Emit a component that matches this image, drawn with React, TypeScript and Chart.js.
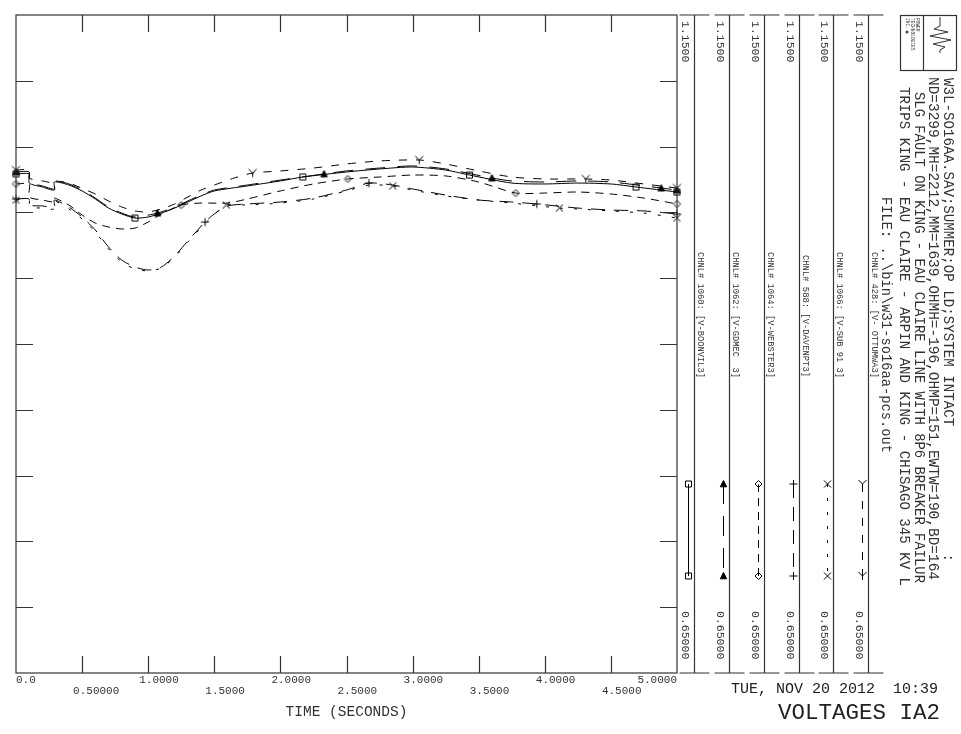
import React, { useEffect, useRef } from 'react';
import { Chart, registerables } from 'chart.js';

Chart.register(...registerables);

const FONT = "'Liberation Mono', 'DejaVu Sans Mono', monospace";

// ---- axes ----
const X_MIN = 0;
const X_MAX = 5;
const Y_MIN = 0.65;
const Y_MAX = 1.15;
const Y_STEP = 0.05;
const X_TICK_VALUES = [0, 0.5, 1, 1.5, 2, 2.5, 3, 3.5, 4, 4.5, 5];
const X_TICK_LABELS = ['0.0', '0.50000', '1.0000', '1.5000', '2.0000', '2.5000', '3.0000', '3.5000', '4.0000', '4.5000', '5.0000'];
const X_TITLE = 'TIME (SECONDS)';
const PANEL_TOP_LABEL = '1.1500';
const PANEL_BOTTOM_LABEL = '0.65000';

// ---- series (time in s, voltage in pu) ----
const BOONVIL_T = [0, 0.1, 0.1, 0.2, 0.29, 0.29, 0.4, 0.5, 0.6, 0.7, 0.8, 0.9, 1.0, 1.1, 1.2, 1.3, 1.4, 1.5, 1.75, 2.0, 2.17, 2.5, 2.75, 3.0, 3.25, 3.43, 3.75, 4.0, 4.25, 4.5, 4.69, 5.0];
const BOONVIL_V = [1.0292, 1.0292, 1.0223, 1.0193, 1.0170, 1.0231, 1.0208, 1.0163, 1.0102, 1.0033, 0.9988, 0.9957, 0.9965, 0.9995, 1.0033, 1.0079, 1.0125, 1.0163, 1.0201, 1.0239, 1.0269, 1.0307, 1.0330, 1.0345, 1.0322, 1.0284, 1.0223, 1.0216, 1.0223, 1.0216, 1.0193, 1.0155];
const BOONVIL_MARKS = [0, 0.9, 2.17, 3.43, 4.69, 5.0];

const GDMEC_T = [0, 0.1, 0.1, 0.2, 0.29, 0.29, 0.4, 0.5, 0.6, 0.7, 0.8, 0.9, 1.07, 1.2, 1.3, 1.4, 1.5, 1.75, 2.0, 2.33, 2.5, 2.75, 3.0, 3.25, 3.6, 3.75, 4.0, 4.25, 4.5, 4.88, 5.0];
const GDMEC_V = [1.0307, 1.0307, 1.0231, 1.0201, 1.0178, 1.0239, 1.0216, 1.0170, 1.0109, 1.0041, 0.9995, 0.9965, 0.9995, 1.0041, 1.0087, 1.0132, 1.0170, 1.0208, 1.0246, 1.0292, 1.0315, 1.0337, 1.0353, 1.0330, 1.0261, 1.0239, 1.0231, 1.0239, 1.0231, 1.0185, 1.0170];
const GDMEC_MARKS = [0, 1.07, 2.33, 3.6, 4.88, 5.0];

const WEBSTER_T = [0, 0.1, 0.1, 0.2, 0.29, 0.29, 0.4, 0.5, 0.6, 0.7, 0.8, 0.9, 1.0, 1.1, 1.25, 1.4, 1.6, 1.75, 2.0, 2.25, 2.51, 2.75, 3.0, 3.25, 3.5, 3.78, 4.0, 4.25, 4.5, 4.75, 5.0];
const WEBSTER_V = [1.0216, 1.0216, 1.0117, 1.0094, 1.0079, 1.0109, 1.0056, 0.9980, 0.9919, 0.9889, 0.9874, 0.9881, 0.9927, 0.9988, 1.0056, 1.0071, 1.0071, 1.0102, 1.0163, 1.0216, 1.0254, 1.0269, 1.0284, 1.0277, 1.0231, 1.0147, 1.0147, 1.0155, 1.0140, 1.0109, 1.0064];
const WEBSTER_MARKS = [0, 1.25, 2.51, 3.78, 5.0];

const DAVENPT_T = [0, 0.1, 0.1, 0.2, 0.29, 0.29, 0.4, 0.5, 0.6, 0.7, 0.8, 0.9, 1.0, 1.1, 1.2, 1.3, 1.43, 1.5, 1.6, 1.75, 2.0, 2.25, 2.5, 2.67, 2.85, 3.0, 3.25, 3.5, 3.75, 3.94, 4.25, 4.5, 4.75, 5.0];
const DAVENPT_V = [1.0102, 1.0102, 1.0056, 1.0049, 1.0041, 1.0094, 1.0041, 0.9965, 0.9866, 0.9737, 0.9638, 0.9585, 0.9562, 0.9585, 0.9669, 0.9783, 0.9927, 0.9988, 1.0049, 1.0064, 1.0079, 1.0109, 1.0170, 1.0223, 1.0208, 1.0178, 1.0132, 1.0094, 1.0079, 1.0064, 1.0033, 1.0018, 1.0011, 0.9988];
const DAVENPT_MARKS = [0, 1.43, 2.67, 3.94, 5.0];

const SUB91_T = [0, 0.1, 0.1, 0.2, 0.29, 0.29, 0.4, 0.5, 0.6, 0.7, 0.8, 0.9, 1.0, 1.1, 1.2, 1.3, 1.45, 1.59, 1.75, 2.0, 2.25, 2.5, 2.67, 2.85, 3.0, 3.25, 3.5, 3.75, 4.11, 4.25, 4.5, 4.75, 5.0];
const SUB91_V = [1.0094, 1.0094, 1.0041, 1.0033, 1.0026, 1.0087, 1.0026, 0.9950, 0.9851, 0.9722, 0.9623, 0.9570, 0.9555, 0.9578, 0.9661, 0.9775, 0.9935, 1.0056, 1.0056, 1.0071, 1.0102, 1.0163, 1.0208, 1.0201, 1.0170, 1.0125, 1.0094, 1.0071, 1.0033, 1.0026, 1.0011, 0.9995, 0.9957];
const SUB91_MARKS = [0, 1.59, 2.85, 4.11, 5.0];

const OTTUMWA_T = [0, 0.1, 0.1, 0.2, 0.29, 0.29, 0.4, 0.53, 0.6, 0.7, 0.8, 0.9, 1.0, 1.1, 1.2, 1.3, 1.4, 1.5, 1.65, 1.79, 2.0, 2.25, 2.5, 2.75, 3.05, 3.25, 3.5, 3.75, 4.0, 4.31, 4.5, 4.75, 5.0];
const OTTUMWA_V = [1.0322, 1.0322, 1.0261, 1.0239, 1.0223, 1.0239, 1.0223, 1.0170, 1.0140, 1.0087, 1.0041, 1.0011, 1.0003, 1.0026, 1.0064, 1.0117, 1.0170, 1.0208, 1.0261, 1.0299, 1.0315, 1.0337, 1.0368, 1.0391, 1.0398, 1.0368, 1.0315, 1.0269, 1.0254, 1.0254, 1.0246, 1.0216, 1.0185];
const OTTUMWA_MARKS = [0, 1.79, 3.05, 4.31, 5.0];

const CHANNEL_LABELS = [
  'CHNL# 1060: [V-BOONVIL3]',
  'CHNL# 1062: [V-GDMEC  3]',
  'CHNL# 1064: [V-WEBSTER3]',
  'CHNL# 588: [V-DAVENPT3]',
  'CHNL# 1066: [V-SUB 91 3]',
  'CHNL# 428: [V- OTTUMWA3]',
];

const HEADER_LINES = [
  'W3L-SO16AA.SAV;SUMMER;OP LD;SYSTEM INTACT               :',
  'ND=3299,MH=2212,MM=1639,OHMH=-196,OHMP=151,EWTW=190,BD=164',
  'SLG FAULT ON KING - EAU CLAIRE LINE WITH 8P6 BREAKER FAILUR',
  'TRIPS KING - EAU CLAIRE - ARPIN AND KING - CHISAGO 345 KV L',
  'FILE: ..\\bin\\w31-so16aa-pcs.out',
];
const DATE_TEXT = 'TUE, NOV 20 2012  10:39';
const PLOT_TITLE = 'VOLTAGES IA2';
const LOGO_TEXT = ['POWER', 'TECHNOLOGIES', 'INC.'];

// ---- styles (kept apart from the data) ----
const SERIES_STYLE = [
  { dash: [] as number[], marker: 'square' },
  { dash: [20, 12], marker: 'triangle' },
  { dash: [8, 6], marker: 'diamond' },
  { dash: [14, 9], marker: 'plus' },
  { dash: [3, 11], marker: 'cross' },
  { dash: [8, 9], marker: 'y' },
];

const HEADER_POS = [
  { x: 948, y0: 78, y1: 562 },
  { x: 932.5, y0: 77, y1: 580 },
  { x: 919, y0: 92, y1: 583 },
  { x: 904, y0: 87, y1: 586 },
  { x: 886, y0: 197, y1: 453 },
];

function drawMarker(ctx: CanvasRenderingContext2D, type: string, x: number, y: number) {
  ctx.save();
  ctx.strokeStyle = '#000';
  ctx.fillStyle = '#000';
  ctx.lineWidth = 1;
  ctx.setLineDash([]);
  ctx.beginPath();
  switch (type) {
    case 'square':
      ctx.rect(x - 3, y - 3, 6, 6);
      ctx.stroke();
      break;
    case 'triangle':
      ctx.moveTo(x, y - 3.5);
      ctx.lineTo(x + 3.2, y + 2.8);
      ctx.lineTo(x - 3.2, y + 2.8);
      ctx.closePath();
      ctx.fill();
      ctx.stroke();
      break;
    case 'diamond':
      ctx.moveTo(x, y - 3.5);
      ctx.lineTo(x + 3.5, y);
      ctx.lineTo(x, y + 3.5);
      ctx.lineTo(x - 3.5, y);
      ctx.closePath();
      ctx.stroke();
      break;
    case 'plus':
      ctx.moveTo(x - 4, y);
      ctx.lineTo(x + 4, y);
      ctx.moveTo(x, y - 4);
      ctx.lineTo(x, y + 4);
      ctx.stroke();
      break;
    case 'cross':
      ctx.moveTo(x - 3.5, y - 3.5);
      ctx.lineTo(x + 3.5, y + 3.5);
      ctx.moveTo(x + 3.5, y - 3.5);
      ctx.lineTo(x - 3.5, y + 3.5);
      ctx.stroke();
      break;
    case 'y':
      ctx.moveTo(x - 4, y - 4);
      ctx.lineTo(x, y);
      ctx.lineTo(x + 4, y - 4);
      ctx.moveTo(x, y);
      ctx.lineTo(x, y + 4);
      ctx.stroke();
      break;
  }
  ctx.restore();
}

function markerCanvas(type: string): HTMLCanvasElement {
  const c = document.createElement('canvas');
  c.width = 11;
  c.height = 11;
  const cx = c.getContext('2d')!;
  drawMarker(cx, type, 5.5, 5.5);
  return c;
}

function rotText(ctx: CanvasRenderingContext2D, text: string, x: number, y: number, font: string, maxW?: number) {
  ctx.save();
  ctx.translate(x, y);
  ctx.rotate(Math.PI / 2);
  ctx.font = font;
  ctx.textAlign = 'left';
  ctx.textBaseline = 'middle';
  if (maxW) {
    const w = ctx.measureText(text).width;
    ctx.scale(maxW / w, 1);
  }
  ctx.fillText(text, 0, 0);
  ctx.restore();
}

const decoPlugin = {
  id: 'deco',
  afterDraw(chart: any) {
    const ctx: CanvasRenderingContext2D = chart.ctx;
    const xs = chart.scales.x;
    const ys = chart.scales.y;
    const L = xs.getPixelForValue(X_MIN);
    const R = xs.getPixelForValue(X_MAX);
    const T = ys.getPixelForValue(Y_MAX);
    const B = ys.getPixelForValue(Y_MIN);
    ctx.save();
    ctx.strokeStyle = '#333';
    ctx.lineWidth = 1.2;
    ctx.setLineDash([]);
    ctx.strokeRect(L, T, R - L, B - T);
    ctx.beginPath();
    X_TICK_VALUES.forEach((v) => {
      if (v === X_MIN || v === X_MAX) return;
      const px = Math.round(xs.getPixelForValue(v)) + 0.5;
      ctx.moveTo(px, T);
      ctx.lineTo(px, T + 17);
      ctx.moveTo(px, B);
      ctx.lineTo(px, B - 17);
    });
    for (let v = Y_MIN + Y_STEP; v < Y_MAX - 1e-6; v += Y_STEP) {
      const py = Math.round(ys.getPixelForValue(v)) + 0.5;
      ctx.moveTo(L, py);
      ctx.lineTo(L + 17, py);
      ctx.moveTo(R, py);
      ctx.lineTo(R - 17, py);
    }
    ctx.stroke();

    // x tick labels, two staggered rows
    ctx.fillStyle = '#333';
    ctx.font = `11px ${FONT}`;
    ctx.textBaseline = 'middle';
    ctx.textAlign = 'left';
    X_TICK_VALUES.forEach((v, i) => {
      const px = xs.getPixelForValue(v);
      const lab = X_TICK_LABELS[i];
      const w = ctx.measureText(lab).width;
      let sx = Math.max(L, px - 9);
      if (sx + w > R) sx = R - w;
      ctx.fillText(lab, sx, i % 2 === 0 ? 680 : 691);
    });
    ctx.font = `14.5px ${FONT}`;
    ctx.textAlign = 'center';
    ctx.fillText(X_TITLE, (L + R) / 2, 712);

    // channel panels
    const step = 34.85;
    chart.data.datasets.forEach((ds: any, k: number) => {
      const lx = Math.round(R + 17 + step * k) + 0.5;
      ctx.strokeStyle = '#333';
      ctx.lineWidth = 1.2;
      ctx.setLineDash([]);
      ctx.beginPath();
      ctx.moveTo(lx, T);
      ctx.lineTo(lx, B);
      ctx.moveTo(lx - 15, T);
      ctx.lineTo(lx + 15, T);
      ctx.moveTo(lx - 15, B);
      ctx.lineTo(lx + 15, B);
      ctx.stroke();
      ctx.fillStyle = '#333';
      rotText(ctx, PANEL_TOP_LABEL, lx - 9, T + 6, `11.5px ${FONT}`);
      rotText(ctx, PANEL_BOTTOM_LABEL, lx - 9, B - 62, `11.5px ${FONT}`);
      rotText(ctx, CHANNEL_LABELS[k], lx + 5.5, k === 3 ? 255 : 252, `9px ${FONT}`, k === 3 ? 122 : 126);
      // legend sample
      const sx = lx - 6;
      const st = SERIES_STYLE[k];
      ctx.strokeStyle = '#000';
      ctx.lineWidth = 1;
      ctx.setLineDash(st.dash);
      ctx.beginPath();
      ctx.moveTo(sx, 484);
      ctx.lineTo(sx, 576);
      ctx.stroke();
      ctx.setLineDash([]);
      drawMarker(ctx, st.marker, sx, 484);
      drawMarker(ctx, st.marker, sx, 576);
    });

    // header text
    ctx.fillStyle = '#333';
    HEADER_LINES.forEach((line, i) => {
      const p = HEADER_POS[i];
      rotText(ctx, line, p.x, p.y0, `14.5px ${FONT}`, p.y1 - p.y0);
    });

    // logo
    ctx.strokeStyle = '#333';
    ctx.lineWidth = 1.2;
    ctx.setLineDash([]);
    ctx.strokeRect(900.5, 15.5, 56, 55);
    ctx.beginPath();
    ctx.moveTo(923.5, 15.5);
    ctx.lineTo(923.5, 70.5);
    ctx.stroke();
    ctx.lineWidth = 1;
    ctx.beginPath();
    const wave = [[940, 17], [940, 26], [934, 29], [948, 32], [930, 36], [951, 40], [933, 44], [945, 47], [940, 50], [940, 53]];
    wave.forEach(([wx, wy], i) => (i === 0 ? ctx.moveTo(wx, wy) : ctx.lineTo(wx, wy)));
    ctx.stroke();
    ctx.fillStyle = '#444';
    LOGO_TEXT.forEach((t, i) => rotText(ctx, t, 917 - i * 5, 18, `4.5px ${FONT}`));
    ctx.beginPath();
    ctx.arc(907, 32, 1.5, 0, Math.PI * 2);
    ctx.fill();

    // date & title
    ctx.fillStyle = '#222';
    ctx.textAlign = 'right';
    ctx.textBaseline = 'middle';
    ctx.font = `15px ${FONT}`;
    ctx.fillText(DATE_TEXT, 938, 689);
    ctx.font = `22.5px ${FONT}`;
    ctx.fillText(PLOT_TITLE, 940, 713);
    ctx.restore();
  },
};

export default function App() {
  const ref = useRef<HTMLCanvasElement>(null);
  useEffect(() => {
    document.body.style.margin = '0';
    const series = [
      [BOONVIL_T, BOONVIL_V, BOONVIL_MARKS],
      [GDMEC_T, GDMEC_V, GDMEC_MARKS],
      [WEBSTER_T, WEBSTER_V, WEBSTER_MARKS],
      [DAVENPT_T, DAVENPT_V, DAVENPT_MARKS],
      [SUB91_T, SUB91_V, SUB91_MARKS],
      [OTTUMWA_T, OTTUMWA_V, OTTUMWA_MARKS],
    ];
    const datasets = series.map(([ts, vs, marks], k) => {
      const img = markerCanvas(SERIES_STYLE[k].marker);
      return {
        label: CHANNEL_LABELS[k],
        data: ts.map((t, i) => ({ x: t, y: vs[i] })),
        borderColor: '#000',
        borderWidth: 1,
        borderDash: SERIES_STYLE[k].dash,
        fill: false,
        tension: 0.25,
        clip: false as any,
        pointStyle: img as any,
        pointRadius: (c: any) => (marks.includes(ts[c.dataIndex]) ? 4 : 0),
        pointHoverRadius: 0,
      };
    });
    const chart = new Chart(ref.current!, {
      type: 'line',
      data: { datasets },
      options: {
        responsive: false,
        animation: false,
        devicePixelRatio: 1,
        layout: { padding: { left: 16, top: 15, right: 284, bottom: 61 } },
        scales: {
          x: { type: 'linear', min: X_MIN, max: X_MAX, display: false },
          y: { type: 'linear', min: Y_MIN, max: Y_MAX, display: false },
        },
        plugins: { legend: { display: false }, tooltip: { enabled: false } },
        events: [],
      },
      plugins: [decoPlugin],
    });
    return () => chart.destroy();
  }, []);
  return <canvas ref={ref} width={961} height={734} style={{ display: 'block', background: '#fff' }} />;
}
